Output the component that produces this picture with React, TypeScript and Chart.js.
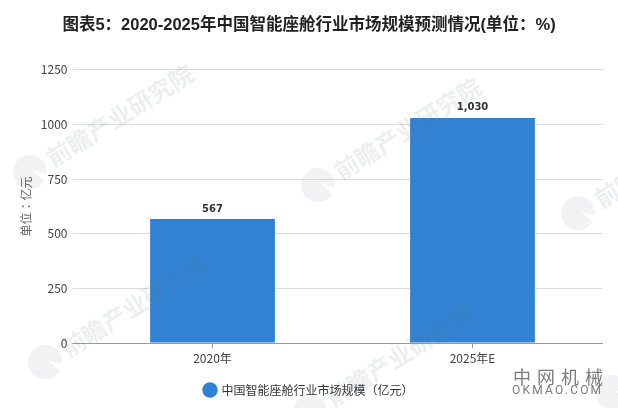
import { useEffect, useRef } from "react";
import { Chart, registerables } from "chart.js";

Chart.register(...registerables);

const CATEGORIES = ["2020年", "2025年E"];
const MARKET_SIZE = [567, 1030];
const SERIES_NAME = "中国智能座舱行业市场规模（亿元）";
const CHART_TITLE = "图表5：2020-2025年中国智能座舱行业市场规模预测情况(单位：%)";
const Y_TITLE = "单位：亿元";
const WATERMARK_TEXT = "前瞻产业研究院";
const WATERMARK_SPOTS = [
    [30, 172],
    [318, 185],
    [578, 213],
    [45, 362],
    [310, 412],
    [612, 392],
];

const CJK = '"Noto Sans CJK SC", "Noto Sans", sans-serif';
const BAR_BLUE = "rgb(49, 130, 210)";

// value labels above the bars
const valueLabels = {
    id: "valueLabels",
    afterDatasetsDraw(chart: Chart) {
        const ctx = chart.ctx;
        const bars = chart.getDatasetMeta(0).data;
        ctx.save();
        ctx.font = 'bold 10px "DejaVu Sans"';
        ctx.fillStyle = "#333";
        ctx.textAlign = "center";
        ctx.textBaseline = "middle";
        bars.forEach((bar, i) => {
            ctx.fillText(MARKET_SIZE[i].toLocaleString("en-US"), bar.x, bar.y - 10);
        });
        ctx.restore();
    },
};

// faint site stamps laid over everything, plus the corner brand
const watermarks = {
    id: "watermarks",
    afterDraw(chart: Chart) {
        const ctx = chart.ctx;
        ctx.save();
        WATERMARK_SPOTS.forEach(([x, y]) => {
            ctx.save();
            ctx.translate(x, y);
            ctx.rotate(-0.56);
            ctx.fillStyle = "rgba(110, 115, 130, 0.09)";
            ctx.beginPath();
            ctx.arc(0, 0, 17, 1.1, Math.PI * 2 + 0.7);
            ctx.lineTo(3, 0);
            ctx.closePath();
            ctx.fill();
            ctx.fillStyle = "rgba(110, 115, 130, 0.12)";
            ctx.font = `bold 24px ${CJK}`;
            ctx.textBaseline = "middle";
            ctx.fillText(WATERMARK_TEXT, 22, 0);
            ctx.restore();
        });
        ctx.fillStyle = "#7b7b7b";
        ctx.textBaseline = "middle";
        ctx.font = `18px ${CJK}`;
        ctx.letterSpacing = "6px";
        ctx.fillText("中网机械", 513, 377);
        ctx.font = "12px Roboto";
        ctx.letterSpacing = "2.2px";
        ctx.fillText("OKMAO.COM", 512, 391);
        ctx.restore();
    },
};

export default function App() {
    const canvasRef = useRef<HTMLCanvasElement>(null);

    useEffect(() => {
        if (!canvasRef.current) return;

        const chart = new Chart(canvasRef.current, {
            type: "bar",
            data: {
                labels: CATEGORIES,
                datasets: [
                    {
                        label: SERIES_NAME,
                        data: MARKET_SIZE,
                        backgroundColor: BAR_BLUE,
                        borderWidth: 0,
                        barPercentage: 0.48,
                        categoryPercentage: 1,
                    },
                ],
            },
            options: {
                responsive: false,
                animation: false,
                devicePixelRatio: 1,
                layout: { padding: { top: 0, left: 15.5, right: 15.5, bottom: 2 } },
                plugins: {
                    tooltip: { enabled: false },
                    title: {
                        display: true,
                        text: CHART_TITLE,
                        color: "#222",
                        font: { family: `"Liberation Sans", ${CJK}`, size: 16.5, weight: "bold" },
                        padding: { top: 16, bottom: 34 },
                    },
                    legend: {
                        position: "bottom",
                        onClick: () => {},
                        labels: {
                            usePointStyle: true,
                            pointStyle: "circle",
                            boxWidth: 11,
                            boxHeight: 11,
                            padding: 10,
                            color: "#333",
                            font: { family: CJK, size: 12 },
                        },
                    },
                },
                scales: {
                    x: {
                        offset: true,
                        afterFit: (scale) => {
                            scale.height = 31;
                        },
                        border: { color: "#999" },
                        grid: {
                            offset: false,
                            drawOnChartArea: false,
                            tickLength: 5,
                            tickColor: "#999",
                        },
                        ticks: {
                            color: "#444",
                            padding: 3,
                            font: { family: CJK, size: 12 },
                        },
                    },
                    y: {
                        min: 0,
                        max: 1250,
                        afterFit: (scale) => {
                            scale.width = 67;
                        },
                        border: { display: false },
                        grid: {
                            tickLength: 10,
                            color: (c) => (c.tick.value === 0 ? "#999" : "#dcdcdc"),
                        },
                        ticks: {
                            stepSize: 250,
                            color: "#444",
                            padding: 5,
                            callback: (value) => String(value),
                            font: { family: CJK, size: 12 },
                        },
                        title: {
                            display: true,
                            text: Y_TITLE,
                            color: "#666",
                            padding: { top: 3.5 },
                            font: { family: '"Noto Sans CJK TC", sans-serif', size: 12 },
                        },
                    },
                },
            },
            plugins: [valueLabels, watermarks],
        });

        return () => chart.destroy();
    }, []);

    return (
        <div style={{ position: "absolute", left: 0, top: 0, width: 618, height: 408, background: "#fff" }}>
            <canvas ref={canvasRef} width={618} height={408} style={{ display: "block" }} />
        </div>
    );
}
